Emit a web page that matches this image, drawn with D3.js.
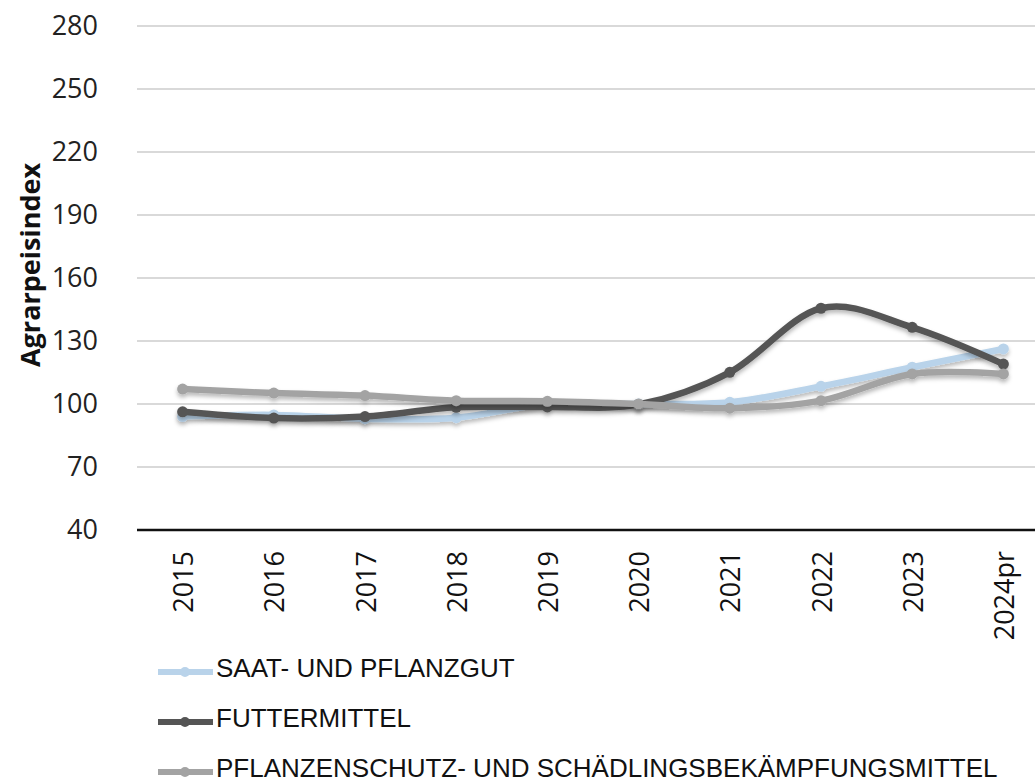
<!DOCTYPE html>
<html>
<head>
<meta charset="utf-8">
<script src="https://d3js.org/d3.v7.min.js"></script>
<style>
  * { margin:0; padding:0; box-sizing:border-box; }
  body { background:#fff; width:1035px; height:784px; overflow:hidden; }
  svg { display:block; }
</style>
</head>
<body>
<svg id="chart" width="1035" height="784"></svg>
<script>
// ── Data ────────────────────────────────────────────────────────────────────
var years      = ["2015", "2016", "2017", "2018", "2019", "2020", "2021", "2022", "2023", "2024pr"];
var saatgut    = [94.0, 94.8, 93.0, 93.5, 100.0, 100.0, 100.8, 108.4, 117.5, 126.2];
var futter     = [96.3, 93.3, 94.0, 98.4, 98.6, 99.8, 115.1, 145.6, 136.5, 119.0];
var pflanzen   = [107.1, 105.2, 104.0, 101.6, 101.3, 100.0, 98.0, 101.6, 114.3, 114.3];
var yTicks     = [40, 70, 100, 130, 160, 190, 220, 250, 280];
var seriesNames = ["SAAT- UND PFLANZGUT", "FUTTERMITTEL", "PFLANZENSCHUTZ- UND SCHÄDLINGSBEKÄMPFUNGSMITTEL"];
var seriesColors = ["#b9d3ea", "#555555", "#a3a3a3"];

var series = [saatgut, futter, pflanzen].map(function(vals, i) {
  return { name: seriesNames[i], color: seriesColors[i], values: vals };
});

// ── Layout ──────────────────────────────────────────────────────────────────
var svg = d3.select("#chart");
var plotLeft = 137, plotRight = 1049, plotTop = 26, plotBottom = 530;

var x = d3.scalePoint().domain(years).range([plotLeft, plotRight]).padding(0.5);
var y = d3.scaleLinear().domain([40, 280]).range([plotBottom, plotTop]);

var defs = svg.append("defs");
var flt = defs.append("filter").attr("id", "shadow")
  .attr("x", "-5%").attr("y", "-20%").attr("width", "110%").attr("height", "160%");
flt.append("feDropShadow").attr("dx", 0).attr("dy", 3).attr("stdDeviation", 2)
  .attr("flood-color", "#000").attr("flood-opacity", 0.28);

// gridlines
svg.append("g")
  .selectAll("line")
  .data(yTicks.filter(function(t) { return t !== 40; }))
  .join("line")
  .attr("x1", plotLeft).attr("x2", 1035)
  .attr("y1", function(d) { return y(d); }).attr("y2", function(d) { return y(d); })
  .attr("stroke", "#d9d9d9").attr("stroke-width", 2);

// y axis labels
var yAxis = d3.axisLeft(y).tickValues(yTicks).tickSize(0).tickPadding(0);
var yG = svg.append("g").attr("transform", "translate(98,0)").call(yAxis);
yG.select(".domain").remove();
yG.selectAll("text")
  .attr("font-family", "'Open Sans', sans-serif")
  .attr("font-size", 27)
  .attr("fill", "#222");

// y axis title
svg.append("text")
  .attr("transform", "translate(40,265) rotate(-90)")
  .attr("text-anchor", "middle")
  .attr("font-family", "'Open Sans', sans-serif")
  .attr("font-weight", "bold")
  .attr("font-size", 27)
  .attr("fill", "#111")
  .text("Agrarpeisindex");

// x axis
var xAxis = d3.axisBottom(x).tickSize(0).tickPadding(0);
var xG = svg.append("g").attr("transform", "translate(0," + plotBottom + ")").call(xAxis);
xG.select(".domain").remove();
xG.selectAll("text")
  .attr("font-family", "'Open Sans', sans-serif")
  .attr("font-size", 27)
  .attr("fill", "#111")
  .attr("text-anchor", "end")
  .attr("dy", null)
  .attr("y", 0)
  .attr("transform", function(d) { return "translate(10,21) rotate(-90)"; });

svg.append("line")
  .attr("x1", plotLeft).attr("x2", 1035)
  .attr("y1", plotBottom).attr("y2", plotBottom)
  .attr("stroke", "#111").attr("stroke-width", 2.5);

// ── Lines ───────────────────────────────────────────────────────────────────
var line = d3.line()
  .x(function(d, i) { return x(years[i]); })
  .y(function(d) { return y(d); })
  .curve(d3.curveCatmullRom.alpha(0));

var sG = svg.append("g").selectAll("g").data(series).join("g")
  .attr("filter", "url(#shadow)");

sG.append("path")
  .attr("d", function(s) { return line(s.values); })
  .attr("fill", "none")
  .attr("stroke", function(s) { return s.color; })
  .attr("stroke-width", 6.5)
  .attr("stroke-linejoin", "round")
  .attr("stroke-linecap", "round");

sG.selectAll("circle")
  .data(function(s) { return s.values.map(function(v, i) { return { v: v, i: i, c: s.color }; }); })
  .join("circle")
  .attr("cx", function(d) { return x(years[d.i]); })
  .attr("cy", function(d) { return y(d.v); })
  .attr("r", 5.5)
  .attr("fill", function(d) { return d.c; });

// ── Legend ──────────────────────────────────────────────────────────────────
var leg = svg.append("g").selectAll("g").data(series).join("g")
  .attr("transform", function(d, i) { return "translate(0," + (672 + i * 50) + ")"; });

leg.append("line")
  .attr("x1", 158).attr("x2", 213).attr("y1", 0).attr("y2", 0)
  .attr("stroke", function(d) { return d.color; })
  .attr("stroke-width", 6);
leg.append("circle")
  .attr("cx", 185).attr("cy", 0).attr("r", 5)
  .attr("fill", function(d) { return d.color; });
leg.append("text")
  .attr("x", 216).attr("y", 5)
  .attr("font-family", "'Liberation Sans', Arial, sans-serif")
  .attr("font-size", 26)
  .attr("fill", "#111")
  .text(function(d) { return d.name; });
</script>
</body>
</html>
